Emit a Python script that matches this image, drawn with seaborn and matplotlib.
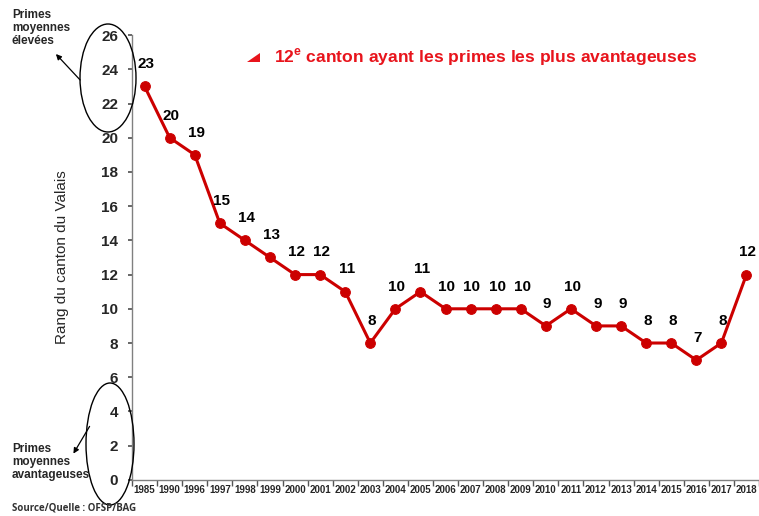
import matplotlib
matplotlib.use("Agg")
import matplotlib.pyplot as plt
import seaborn as sns
import pandas as pd
from matplotlib.patches import Ellipse, Polygon

years = ["1985", "1990", "1996", "1997", "1998", "1999", "2000", "2001", "2002",
         "2003", "2004", "2005", "2006", "2007", "2008", "2009", "2010", "2011",
         "2012", "2013", "2014", "2015", "2016", "2017", "2018"]
rank = [23, 20, 19, 15, 14, 13, 12, 12, 11, 8, 10, 11, 10, 10, 10, 10, 9, 10,
        9, 9, 8, 8, 7, 8, 12]
y_ticks = list(range(0, 27, 2))

red = "#CC0000"

sns.set_theme(style="white")
plt.rcParams["font.family"] = ["Liberation Sans", "DejaVu Sans"]
plt.rcParams["mathtext.fontset"] = "custom"
plt.rcParams["mathtext.bf"] = "Liberation Sans:bold"
plt.rcParams["mathtext.rm"] = "Liberation Sans"

df = pd.DataFrame({"year": years, "rank": rank})

fig = plt.figure(figsize=(7.59, 5.16), dpi=100)
ax = fig.add_axes([0.174, 0.070, 0.826, 0.862])

sns.lineplot(data=df, x=range(len(years)), y="rank", ax=ax, color=red,
             linewidth=2.2, marker="o", markersize=7, markeredgecolor=red)

# value labels above each point
for i, v in enumerate(rank):
    ax.annotate(str(v), (i, v), xytext=(1, 16), textcoords="offset points",
                ha="center", va="center", fontsize=11, fontweight="bold",
                color="black")

ax.set_xlim(-0.5, len(years) - 0.5)
ax.set_ylim(0, 26)
ax.set_xticks(range(len(years)))
ax.set_xticklabels(years, fontsize=7, fontweight="bold")
ax.set_xticks([i + 0.5 for i in range(-1, len(years))], minor=True)
ax.tick_params(axis="x", which="major", length=0, pad=4)
ax.tick_params(axis="x", which="minor", length=4, color="#555555", direction="out", bottom=True)
ax.set_yticks(y_ticks)
ax.set_yticklabels([str(t) for t in y_ticks], fontsize=11, fontweight="bold")
ax.tick_params(axis="y", length=3, color="#555555", direction="out", left=True, pad=7)
ax.set_ylabel("Rang du canton du Valais", fontsize=11)
ax.yaxis.set_label_coords(-0.100, 0.5)
ax.set_xlabel("")
for s in ["top", "right"]:
    ax.spines[s].set_visible(False)
for s in ["left", "bottom"]:
    ax.spines[s].set_color("#808080")
    ax.spines[s].set_linewidth(1)

# overlay in pixel coordinates for the annotations
ov = fig.add_axes([0, 0, 1, 1], facecolor="none")
ov.set_xlim(0, 759)
ov.set_ylim(516, 0)
ov.axis("off")

ov.add_patch(Ellipse((108, 78), 56, 108, fill=False, edgecolor="black", linewidth=1))
ov.add_patch(Ellipse((110, 444), 48, 122, fill=False, edgecolor="black", linewidth=1))
ov.annotate("", xy=(54, 52), xytext=(82, 82),
            arrowprops=dict(arrowstyle="-|>", color="black", lw=0.9, mutation_scale=8))
ov.annotate("", xy=(72, 456), xytext=(91, 424),
            arrowprops=dict(arrowstyle="-|>", color="black", lw=0.9, mutation_scale=8))
ov.text(12, 28, "Primes\nmoyennes\nélevées", fontsize=8.5, fontweight="bold",
        va="center", ha="left", linespacing=1.1)
ov.text(12, 462, "Primes\nmoyennes\navantageuses", fontsize=8.5, fontweight="bold",
        va="center", ha="left", linespacing=1.1)

ov.add_patch(Polygon([(247, 62), (260, 62), (260, 53)], closed=True,
                     facecolor="#E8141C", edgecolor="none"))
ov.text(274, 57, r"12$^{\mathbf{e}}$ canton ayant les primes les plus avantageuses",
        fontsize=12.6, fontweight="bold", color="#E8141C", va="center", ha="left")

ov.text(12, 508, "Source/Quelle : OFSP/BAG", fontsize=7, fontweight="bold",
        color="#333333", va="center", ha="left", family=["Open Sans", "DejaVu Sans"])

fig.savefig("out.png", dpi=100)
